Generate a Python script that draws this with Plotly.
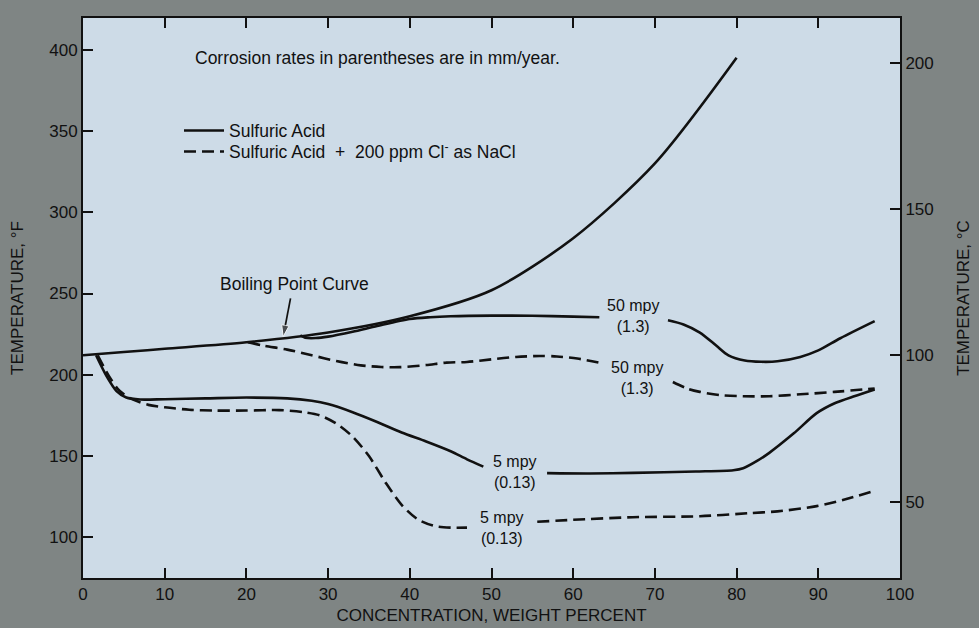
import plotly.graph_objects as go

# ---------------- data (x = wt% H2SO4, y = temperature in °F) ----------------
boil_x = [0, 5, 10, 20, 30, 40, 50, 60, 70, 80]
boil_f = [212, 214, 216, 220, 226, 236, 252, 284, 330, 395]

# Sulfuric acid, 50 mpy (1.3 mm/y)
s50a_x = [26.6, 27.2, 28.5, 30, 33, 36, 40, 42.5, 45, 50, 55, 60, 63.2]
s50a_f = [224.2, 222.8, 222.6, 223.5, 226.5, 230, 234.3, 235.4, 236, 236.4, 236.3, 235.8, 235.4]
s50b_x = [71.6, 73.5, 75.5, 77.5, 79, 81, 83, 85, 87.8, 90, 92.7, 96.9]
s50b_f = [233.6, 231, 226, 218, 212, 208.8, 208, 208.3, 211, 215, 222.5, 233]

# Sulfuric acid, 5 mpy (0.13 mm/y)
s5a_x = [1.6, 2.9, 4.1, 5.3, 7, 10, 15, 20, 25, 28, 30, 33, 36, 39, 42, 45, 47, 49]
s5a_f = [212, 199, 190, 186, 184.8, 185, 185.5, 186, 185.5, 184, 182, 177, 171, 164.5, 159, 153, 148, 143.5]
s5b_x = [56.8, 62, 67.3, 75, 79.6, 80.8, 82.5, 84, 87, 89.8, 92, 94.5, 96.9]
s5b_f = [139.5, 139.3, 139.7, 140.5, 141.3, 142.5, 147, 152, 164, 176.4, 182.5, 187, 191]

# Sulfuric acid + 200 ppm Cl- as NaCl, 50 mpy
d50a_x = [20.2, 22, 25, 28, 31, 34, 36.5, 38.8, 42, 44.5, 47, 50, 53, 55.9, 58, 60.5, 63.3]
d50a_f = [220, 218, 215.5, 212, 208.5, 205.8, 204.8, 204.7, 206, 207.5, 207.9, 209.5, 211, 211.6, 211.3, 210, 207.3]
d50b_x = [72.2, 74, 75.5, 78, 80.8, 84, 87.8, 92, 96.9]
d50b_f = [195.6, 191.5, 189.5, 187.5, 186.8, 186.8, 188, 189.5, 191.6]

# Sulfuric acid + 200 ppm Cl- as NaCl, 5 mpy
d5a_x = [1.8, 3.2, 4.5, 6, 8, 10, 13, 16, 20, 24, 27, 29, 31, 33, 35, 37, 39, 41, 43, 45, 47]
d5a_f = [212, 199, 190, 185, 181.5, 180, 178.5, 178, 178, 178.3, 177, 175, 170, 162, 150, 134, 120, 111, 107, 106, 106]
d5b_x = [55.6, 60, 67.3, 75.5, 81.6, 85, 89.8, 93, 96.9]
d5b_f = [109.6, 110.8, 112.4, 113, 114.9, 116, 119.2, 123, 128.6]

# pointer from the "Boiling Point Curve" label to the curve
arrow_x = [25.4, 24.5]
arrow_f = [247, 223.5]

# labels
legend_names = ["Sulfuric Acid", "Sulfuric Acid  +  200 ppm Cl<sup>-</sup> as NaCl"]
label_text = ["50 mpy<br>(1.3)", "50 mpy<br>(1.3)", "5 mpy<br>(0.13)", "5 mpy<br>(0.13)"]
label_x = [67.3, 67.8, 52.9, 51.3]
label_f = [236.1, 198.0, 140.2, 105.5]

x_range = [0, 100]
f_range = [75, 419.5]
f_ticks = [100, 150, 200, 250, 300, 350, 400]
c_ticks = [50, 100, 150, 200]
x_ticks = [0, 10, 20, 30, 40, 50, 60, 70, 80, 90, 100]

# ---------------- styling ----------------
PAPER = "#7f8584"
PLOT = "#cddbe7"
INK = "#111111"
NARROW = "Liberation Sans Narrow, Arial Narrow, Liberation Sans, Arial, sans-serif"
SANS = "Liberation Sans, Arial, Helvetica, sans-serif"
LW = 2.6
DASH = "12px,6px"
TXT = 17.5

fig = go.Figure()

def add(x, y, dash, name=None, show=False, legend="legend"):
    fig.add_trace(go.Scatter(
        x=x, y=y, mode="lines",
        line=dict(color=INK, width=LW, dash=dash, shape="spline", smoothing=0.8),
        name=name if name else "", showlegend=show, hoverinfo="skip", legend=legend,
    ))

add(boil_x, boil_f, "solid")
add(s50a_x, s50a_f, "solid", legend_names[0], True, "legend")
add(s50b_x, s50b_f, "solid")
add(s5a_x, s5a_f, "solid")
add(s5b_x, s5b_f, "solid")
add(d50a_x, d50a_f, DASH, legend_names[1], True, "legend2")
add(d50b_x, d50b_f, DASH)
add(d5a_x, d5a_f, DASH)
add(d5b_x, d5b_f, DASH)

# arrow pointer
fig.add_trace(go.Scatter(
    x=arrow_x, y=arrow_f, mode="lines+markers",
    line=dict(color=INK, width=1.7),
    marker=dict(symbol="arrow", angleref="previous", size=[0, 12], color=INK),
    showlegend=False, hoverinfo="skip"))

# invisible trace to attach the Celsius axis
fig.add_trace(go.Scatter(
    x=boil_x, y=[(f - 32) / 1.8 for f in boil_f], yaxis="y2", mode="lines",
    line=dict(width=0), opacity=0, showlegend=False, hoverinfo="skip"))

# curve labels
for t, x, y in zip(label_text, label_x, label_f):
    fig.add_annotation(x=x, y=y, text=t, showarrow=False, align="center",
                       font=dict(family=SANS, size=16, color=INK))

fig.add_annotation(x=25.9, y=256, text="Boiling Point Curve", showarrow=False,
                   font=dict(family=SANS, size=TXT, color=INK))

fig.add_annotation(x=13.5, y=395, text="Corrosion rates in parentheses are in mm/year.",
                   showarrow=False, xanchor="left",
                   font=dict(family=SANS, size=TXT, color=INK))

axis_common = dict(showgrid=False, zeroline=False, showline=True, linecolor=INK, linewidth=2,
                   ticks="inside", ticklen=10, tickwidth=2, tickcolor=INK, automargin=False,
                   tickfont=dict(family=NARROW, size=17, color=INK))

legend_common = dict(xanchor="left", yanchor="top", bgcolor="rgba(0,0,0,0)", borderwidth=0,
                     font=dict(family=SANS, size=TXT, color=INK), itemwidth=40)

fig.update_layout(
    width=979, height=628,
    paper_bgcolor=PAPER, plot_bgcolor=PLOT,
    margin=dict(l=83, r=79, t=18, b=50),
    xaxis=dict(range=x_range, tickvals=x_ticks, mirror="ticks",
               title=dict(text="CONCENTRATION, WEIGHT PERCENT", standoff=6,
                          font=dict(family=NARROW, size=17, color=INK)),
               **axis_common),
    yaxis=dict(range=f_range, tickvals=f_ticks, mirror=True,
               title=dict(text="TEMPERATURE, °F", standoff=21,
                          font=dict(family=NARROW, size=17, color=INK)),
               **axis_common),
    yaxis2=dict(range=[(f_range[0] - 32) / 1.8, (f_range[1] - 32) / 1.8], tickvals=c_ticks,
                overlaying="y", side="right",
                title=dict(text="TEMPERATURE, °C", standoff=24,
                           font=dict(family=NARROW, size=17, color=INK)),
                **axis_common),
    legend=dict(x=0.1175, y=0.831, **legend_common),
    legend2=dict(x=0.1175, y=0.7934, **legend_common),
    showlegend=True,
)

fig.write_html("out.html", config={"displayModeBar": False},
               post_script="document.body.style.margin='0px';")
